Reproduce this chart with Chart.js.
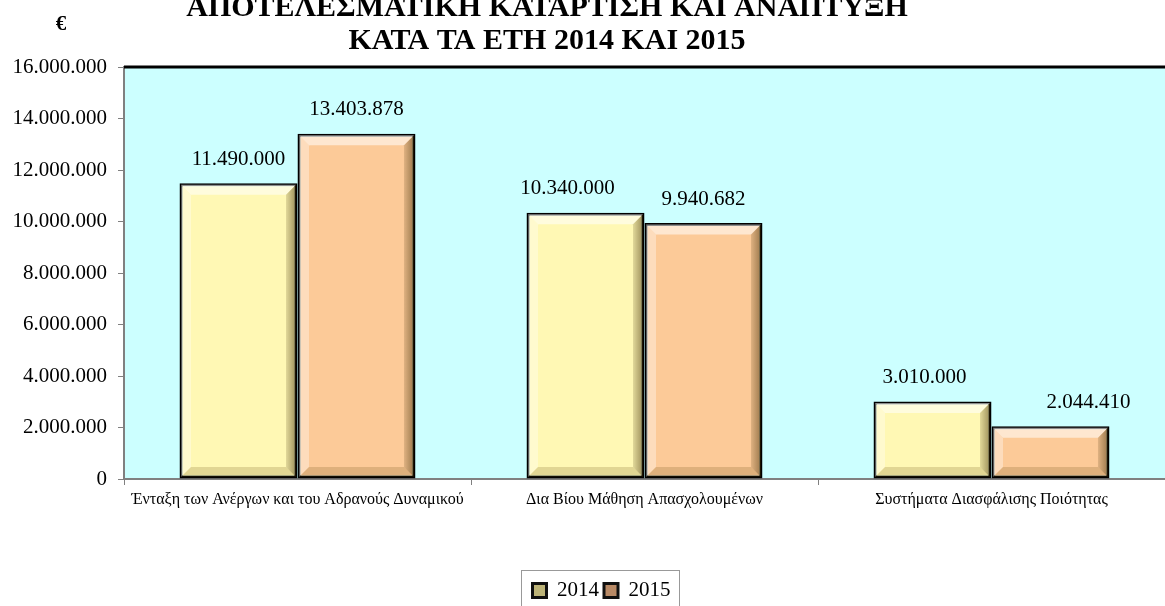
<!DOCTYPE html>
<html>
<head>
<meta charset="utf-8">
<script src="https://cdn.jsdelivr.net/npm/chart.js@4/dist/chart.umd.min.js"></script>
<style>
  html, body { margin: 0; padding: 0; background: #fff; }
  #wrap { width: 1165px; height: 606px; position: relative; }
</style>
</head>
<body>
<div id="wrap"><canvas id="c" width="1165" height="606"></canvas></div>
<script>
// data
var categories = [
	"Ένταξη των Ανέργων και του Αδρανούς Δυναμικού",
	"Δια Βίου Μάθηση Απασχολουμένων",
	"Συστήματα Διασφάλισης Ποιότητας"
]
var values2014 = [11490000, 10340000, 3010000]
var values2015 = [13403878, 9940682, 2044410]
var yTicks = [0, 2000000, 4000000, 6000000, 8000000, 10000000, 12000000, 14000000, 16000000]
var titleLines = ["ΑΠΟΤΕΛΕΣΜΑΤΙΚΗ ΚΑΤΑΡΤΙΣΗ ΚΑΙ ΑΝΑΠΤΥΞΗ", "ΚΑΤΑ ΤΑ ΕΤΗ 2014 ΚΑΙ 2015"]

// small nudges of the value labels, as in the original (px, style only)
var labelNudge = [[0, -18, -8], [0, 0, 38]]

var FONT = "'Liberation Serif', 'Times New Roman', serif"

function fmt(v) {
	return String(v).replace(/\B(?=(\d{3})+(?!\d))/g, ".")
}

// background of the plot + thick top border
var plotBg = {
	id: 'plotBg',
	beforeDraw: function (chart) {
		var a = chart.chartArea, ctx = chart.ctx
		ctx.save()
		ctx.fillStyle = '#CCFFFF'
		ctx.fillRect(a.left, a.top, a.right - a.left, a.bottom - a.top)
		ctx.restore()
	},
	afterDraw: function (chart) {
		var a = chart.chartArea, ctx = chart.ctx
		ctx.save()
		ctx.strokeStyle = '#000'
		ctx.lineWidth = 3
		ctx.beginPath()
		ctx.moveTo(a.left, a.top)
		ctx.lineTo(a.right, a.top)
		ctx.stroke()
		ctx.restore()
	}
}

// bevel look on bars + value labels
var bevel = {
	id: 'bevel',
	afterDatasetsDraw: function (chart) {
		var ctx = chart.ctx
		chart.data.datasets.forEach(function (ds, di) {
			var meta = chart.getDatasetMeta(di)
			meta.data.forEach(function (el, i) {
				var p = el.getProps(['x', 'y', 'base', 'width'], true)
				var l = p.x - p.width / 2 + 1.5, r = p.x + p.width / 2 - 1.5
				var t = p.y + 1.5, b = p.base - 1.5
				var s = Math.min(10, (b - t) / 3)
				ctx.save()
				// top
				ctx.fillStyle = 'rgba(255,255,255,0.55)'
				ctx.beginPath(); ctx.moveTo(l, t); ctx.lineTo(r, t); ctx.lineTo(r - s, t + s); ctx.lineTo(l + s, t + s); ctx.fill()
				// left
				ctx.fillStyle = 'rgba(255,255,255,0.35)'
				ctx.beginPath(); ctx.moveTo(l, t); ctx.lineTo(l + s, t + s); ctx.lineTo(l + s, b - s); ctx.lineTo(l, b); ctx.fill()
				// right
				var g = ctx.createLinearGradient(r - s, 0, r, 0)
				g.addColorStop(0, 'rgba(60,40,0,0.15)')
				g.addColorStop(1, 'rgba(60,40,0,0.5)')
				ctx.fillStyle = g
				ctx.beginPath(); ctx.moveTo(r, t); ctx.lineTo(r, b); ctx.lineTo(r - s, b - s); ctx.lineTo(r - s, t + s); ctx.fill()
				// bottom
				ctx.fillStyle = 'rgba(90,60,0,0.18)'
				ctx.beginPath(); ctx.moveTo(l, b); ctx.lineTo(r, b); ctx.lineTo(r - s, b - s); ctx.lineTo(l + s, b - s); ctx.fill()
				ctx.restore()

				// value label
				ctx.save()
				ctx.fillStyle = '#000'
				ctx.font = "21px " + FONT
				ctx.textAlign = 'center'
				ctx.textBaseline = 'middle'
				ctx.fillText(fmt(ds.data[i]), p.x + labelNudge[di][i], p.y - 24)
				ctx.restore()
			})
		})
	}
}

// legend sits a little right of the canvas centre (and lower) in the original
var legendShift = {
	id: 'legendShift',
	afterLayout: function (chart) {
		chart.legend.left += 19
		chart.legend.right += 19
		chart.legend.top += 5
		chart.legend.bottom += 5
	}
}

// title, euro sign, legend frame
var decor = {
	id: 'decor',
	afterDraw: function (chart) {
		var ctx = chart.ctx
		ctx.save()
		ctx.fillStyle = '#000'
		ctx.textAlign = 'center'
		ctx.textBaseline = 'middle'
		ctx.font = "bold 30px " + FONT
		ctx.fillText(titleLines[0], 547, 8)
		ctx.fillText(titleLines[1], 547, 41)
		ctx.font = "bold 21px " + FONT
		ctx.fillText("€", 61, 25)

		var hb = chart.legend.legendHitBoxes
		if (hb && hb.length) {
			var minX = Infinity, maxX = -Infinity, minY = Infinity
			hb.forEach(function (h) {
				minX = Math.min(minX, h.left); maxX = Math.max(maxX, h.left + h.width); minY = Math.min(minY, h.top)
			})
			ctx.strokeStyle = '#999'
			ctx.lineWidth = 1
			ctx.strokeRect(Math.round(minX - 12) + 0.5, Math.round(minY - 10) + 0.5, Math.round(maxX - minX + 20), 60)
		}
		ctx.restore()
	}
}

new Chart(document.getElementById('c'), {
	type: 'bar',
	data: {
		labels: categories,
		datasets: [
			{
				label: '2014',
				data: values2014,
				backgroundColor: '#FFF8B4',
				borderColor: '#000',
				borderWidth: 3,
				borderSkipped: false,
				categoryPercentage: 0.68,
				barPercentage: 1.0
			},
			{
				label: '2015',
				data: values2015,
				backgroundColor: '#FCCA98',
				borderColor: '#000',
				borderWidth: 3,
				borderSkipped: false,
				categoryPercentage: 0.68,
				barPercentage: 1.0
			}
		]
	},
	options: {
		responsive: false,
		animation: false,
		layout: { padding: { left: 0, top: 67, right: 0, bottom: 0 } },
		plugins: {
			title: { display: false },
			tooltip: { enabled: false },
			legend: {
				position: 'bottom',
				labels: {
					font: { family: FONT, size: 21 },
					color: '#000',
					boxWidth: 14,
					boxHeight: 14,
					padding: 5,
					generateLabels: function (chart) {
						return chart.data.datasets.map(function (ds, i) {
							return {
								text: ds.label,
								fillStyle: i === 0 ? '#bdb478' : '#b98a66',
								strokeStyle: '#111',
								lineWidth: 3,
								datasetIndex: i
							}
						})
					}
				}
			}
		},
		scales: {
			x: {
				afterFit: function (scale) { scale.height = 91 },
				grid: { drawOnChartArea: false, drawTicks: true, tickLength: 6, color: '#808080' },
				border: { color: '#808080', width: 2 },
				ticks: {
					color: '#000',
					font: { family: FONT, size: 16 },
					padding: 5,
					maxRotation: 0,
					autoSkip: false
				}
			},
			y: {
				min: 0,
				max: 16000000,
				afterFit: function (scale) { scale.width = 124 },
				afterBuildTicks: function (scale) {
					scale.ticks = yTicks.map(function (v) { return { value: v } })
				},
				grid: { drawOnChartArea: false, drawTicks: true, tickLength: 6, color: '#808080' },
				border: { color: '#808080', width: 2 },
				ticks: {
					color: '#000',
					font: { family: FONT, size: 21 },
					padding: 11,
					callback: function (v) { return fmt(v) }
				}
			}
		}
	},
	plugins: [plotBg, bevel, legendShift, decor]
})
</script>
</body>
</html>
